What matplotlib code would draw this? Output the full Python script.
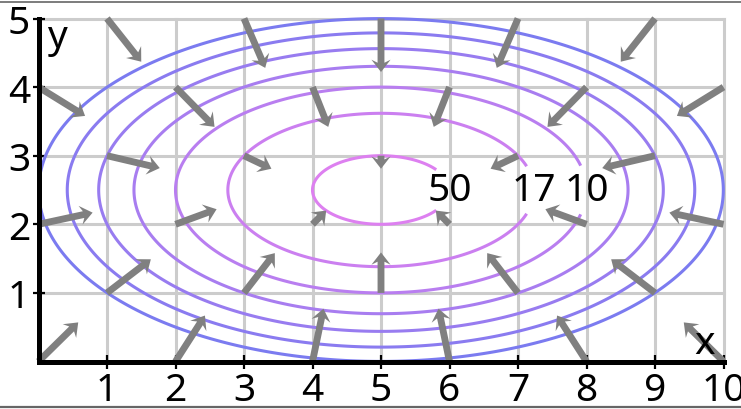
import numpy as np
import matplotlib
matplotlib.use("Agg")
import matplotlib.pyplot as plt
from matplotlib.lines import Line2D

plt.rcParams['font.family'] = ['Noto Sans', 'DejaVu Sans']

# ---- data ----
x_ticks = [1, 2, 3, 4, 5, 6, 7, 8, 9, 10]
y_ticks = [1, 2, 3, 4, 5]
x_tick_labels = ["1", "2", "3", "4", "5", "6", "7", "8", "9", "10"]
y_tick_labels = ["1", "2", "3", "4", "5"]

# field parameters (value = peak_scale / ((x-cx)^2 + y_weight*(y-cy)^2 + 1))
center_x = 5.0
center_y = 2.5
y_weight = 4.0
peak_scale = 100.0

contour_levels = [3.85, 4.55, 5.56, 7.14, 10.0, 16.67, 50.0]
contour_colors = ["#7b7bf0", "#8a7bf0", "#987cf0", "#a87df0", "#b97ef0", "#cb7ff0", "#dd80f0"]
label_text = {3.85: "", 4.55: "", 5.56: "", 7.14: "", 10.0: "10", 16.67: "17", 50.0: "50"}
label_spots = [(8.0, 2.5), (7.236, 2.5), (6.0, 2.5)]

arrow_x = [1, 3, 5, 7, 9, 0, 2, 4, 6, 8, 10, 1, 3, 5, 7, 9, 0, 2, 4, 6, 8, 10,
           1, 3, 5, 7, 9, 0, 2, 4, 6, 8, 10]
arrow_y = [5] * 5 + [4] * 6 + [3] * 5 + [2] * 6 + [1] * 5 + [0] * 6
arrow_u = [0.50, 0.31, 0.0, -0.31, -0.50,
           0.68, 0.57, 0.23, -0.23, -0.57, -0.68,
           0.77, 0.40, 0.0, -0.40, -0.77,
           0.79, 0.60, 0.20, -0.20, -0.60, -0.79,
           0.64, 0.45, 0.0, -0.45, -0.64,
           0.58, 0.43, 0.16, -0.16, -0.43, -0.58]
arrow_v = [-0.63, -0.72, -0.78, -0.72, -0.63,
           -0.42, -0.58, -0.58, -0.58, -0.58, -0.42,
           -0.18, -0.19, -0.19, -0.19, -0.18,
           0.17, 0.22, 0.20, 0.20, 0.22, 0.17,
           0.49, 0.58, 0.59, 0.58, 0.49,
           0.57, 0.67, 0.77, 0.77, 0.67, 0.57]

# ---- figure ----
W, H = 741, 410
fig = plt.figure(figsize=(W / 100, H / 100), dpi=100)
x0px, x1px = 38.5, 723.5
y0px, y1px = 362.5, 19.5
ax = fig.add_axes([x0px / W, (H - y0px) / H, (x1px - x0px) / W, (y0px - y1px) / H])
ax.set_xlim(0, 10)
ax.set_ylim(0, 5)

# grid
grid_color = "#cccccc"
for gx in x_ticks:
    ax.plot([gx, gx], [0, 5], color=grid_color, lw=2.2, zorder=1, clip_on=False)
for gy in y_ticks:
    ax.plot([0, 10], [gy, gy], color=grid_color, lw=2.2, zorder=1, clip_on=False)

# contours
gx_ = np.linspace(-0.3, 10.3, 700)
gy_ = np.linspace(-0.3, 5.3, 400)
XX, YY = np.meshgrid(gx_, gy_)
FF = peak_scale / ((XX - center_x) ** 2 + y_weight * (YY - center_y) ** 2 + 1)
cs = ax.contour(XX, YY, FF, levels=contour_levels, colors=contour_colors,
                linewidths=2.2, zorder=2)
cs.set_clip_on(False)
lbls = ax.clabel(cs, inline=True, inline_spacing=3,
                 fmt=label_text, manual=label_spots, fontsize=28, colors="black")
for t in lbls:
    t.set_rotation(0)
    t.set_zorder(6)

# arrows
ax.quiver(arrow_x, arrow_y, arrow_u, arrow_v, angles='xy', scale_units='xy', scale=1,
          units='xy', width=0.1, headwidth=2.8, headlength=1.8, headaxislength=1.35,
          minshaft=0.5, minlength=0.1, color="#808080", zorder=4, clip_on=False)

# spines / ticks
for s in ["top", "right"]:
    ax.spines[s].set_visible(False)
for s in ["left", "bottom"]:
    ax.spines[s].set_linewidth(3.6)
    ax.spines[s].set_color("black")
    ax.spines[s].set_zorder(5)
ax.set_xticks(x_ticks)
ax.set_xticklabels(x_tick_labels)
ax.set_yticks(y_ticks)
ax.set_yticklabels(y_tick_labels)
ax.tick_params(axis='x', direction='inout', length=10, width=1.6, labelsize=28, pad=2)
ax.tick_params(axis='y', direction='inout', length=8, width=1.6, labelsize=28, pad=2)

ax.text(0.12, 5.0, "y", fontsize=28, ha='left', va='top', zorder=6)
ax.text(9.72, 0.12, "x", fontsize=28, ha='center', va='baseline', zorder=6)

# figure border lines
fig.add_artist(Line2D([0, 1], [1 - 3 / H, 1 - 3 / H], transform=fig.transFigure,
                      color="#666666", lw=1.2))
fig.add_artist(Line2D([0, 1], [1 - 408 / H, 1 - 408 / H], transform=fig.transFigure,
                      color="#666666", lw=1.6))

fig.savefig("out.png", dpi=100)
